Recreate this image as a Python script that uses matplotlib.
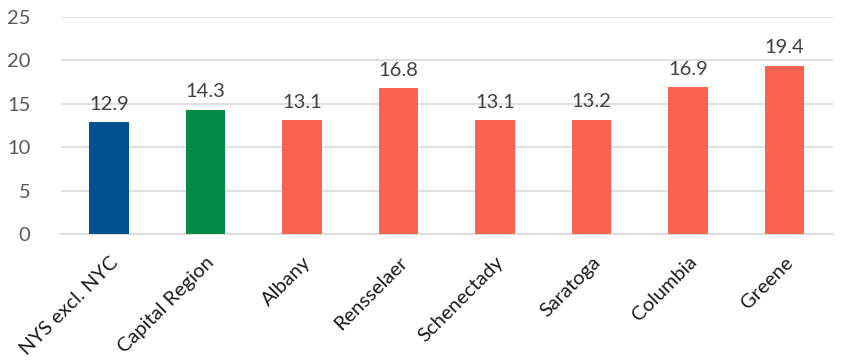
import numpy as np
import matplotlib.pyplot as plt

categories = ["NYS excl. NYC", "Capital Region", "Albany", "Rensselaer",
              "Schenectady", "Saratoga", "Columbia", "Greene"]
values = [12.9, 14.3, 13.1, 16.8, 13.1, 13.2, 16.9, 19.4]
colors = ["#01508F", "#068B47", "#F96452", "#F96452",
          "#F96452", "#F96452", "#F96452", "#F96452"]

plt.rcParams["font.family"] = ["Lato", "DejaVu Sans"]

fig = plt.figure(figsize=(8.42, 3.64), dpi=100)
ax = fig.add_axes([0.0724, 0.357, 0.9166, 0.596])

x = np.arange(len(categories))
bars = ax.bar(x, values, width=0.41, color=colors, zorder=3)
for xi, v in zip(x, values):
    ax.text(xi, v + 1.1, f"{v:.1f}", ha="center", va="bottom",
            fontsize=14.5, color="#404040")

ax.set_xlim(-0.5, len(categories) - 0.5)
ax.set_ylim(0, 25)
ax.set_yticks(np.arange(0, 26, 5))
ax.yaxis.grid(True, color="#D9D9D9", linewidth=1.2, zorder=0)
for s in ["top", "right", "left"]:
    ax.spines[s].set_visible(False)
ax.spines["bottom"].set_color("#D9D9D9")
ax.spines["bottom"].set_linewidth(1.2)
ax.tick_params(axis="both", length=0)
ax.tick_params(axis="y", labelsize=14.5, labelcolor="#595959", pad=22)
ax.set_xticks(x)
ax.set_xticklabels(categories, rotation=45, ha="right", rotation_mode="anchor",
                   fontsize=14.5, color="#1a1a1a")
ax.tick_params(axis="x", pad=14)

fig.savefig("out.png", dpi=100)
